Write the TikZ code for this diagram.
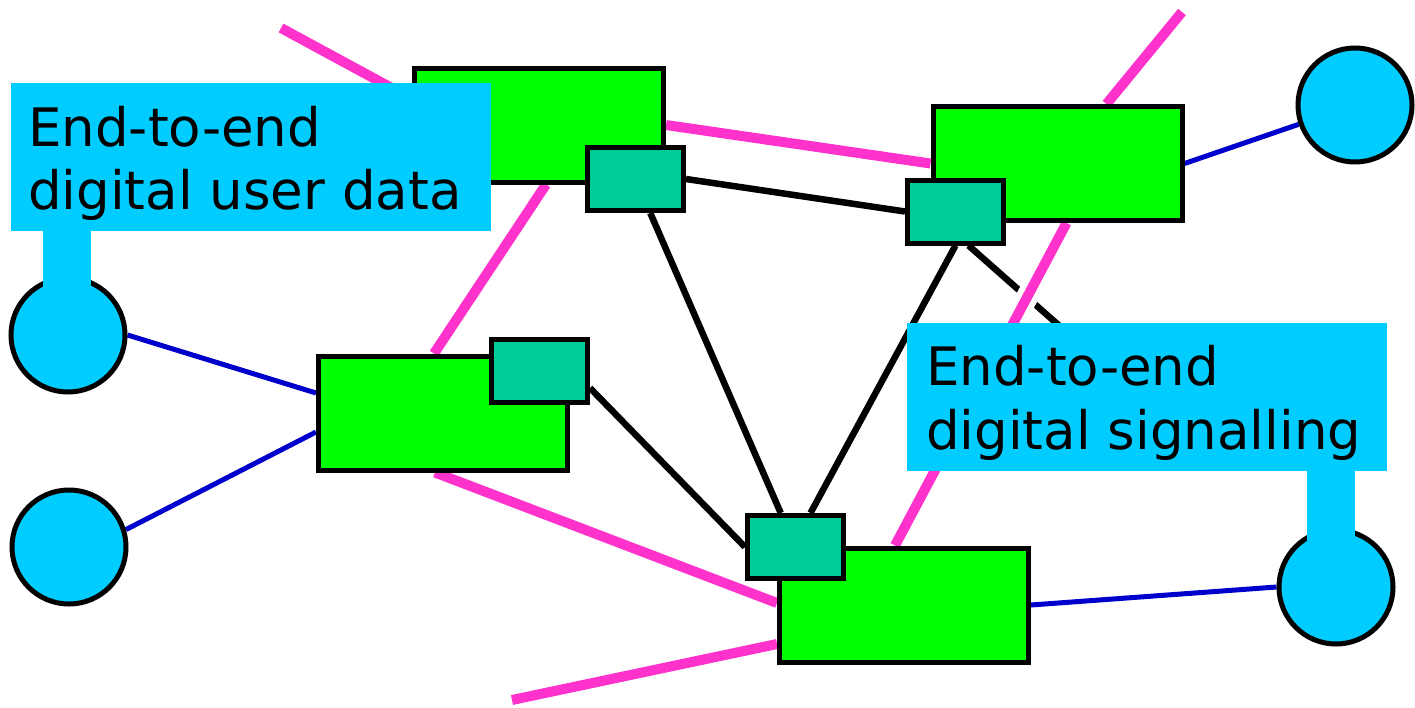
\documentclass[tikz,border=0pt]{standalone}
\usepackage{fontspec}
\setmainfont{DejaVu Sans}
\usetikzlibrary{calc}
\definecolor{exgreen}{RGB}{0,255,0}
\definecolor{sigteal}{RGB}{0,204,153}
\definecolor{termcyan}{RGB}{0,204,255}
\definecolor{linkpink}{RGB}{255,51,204}
\definecolor{accblue}{RGB}{0,0,204}
\pgfdeclarelayer{back}
\pgfsetlayers{back,main}

\begin{document}
\begin{tikzpicture}[x=1pt,y=-1pt,
  exchange/.style={draw=black, line width=5pt, fill=exgreen, minimum width=249pt, minimum height=114pt, inner sep=0pt},
  sigunit/.style={draw=black, line width=5pt, fill=sigteal, minimum width=96pt, minimum height=63pt, inner sep=0pt},
  terminal/.style={circle, draw=black, line width=5pt, fill=termcyan, minimum size=114pt, inner sep=0pt},
  access/.style={draw=accblue, line width=5pt},
  trunk/.style={draw=linkpink, line width=10pt},
  siglink/.style={draw=black, line width=6.5pt},
  callout/.style={fill=termcyan, minimum width=480pt, minimum height=148pt, inner sep=0pt},
  stem/.style={draw=termcyan, line width=48pt},
  lbl/.style={anchor=base west, inner sep=0pt, font=\fontsize{53}{63}\selectfont},
]
\useasboundingbox (0,0) rectangle (1415,707);

% exchanges
\node[exchange] (A) at (539,125) {};
\node[exchange] (B) at (1057.5,163.5) {};
\node[exchange] (C) at (443,413) {};
\node[exchange] (D) at (904,605) {};
% signalling units
\node[sigunit] (a) at (635.5,179) {};
\node[sigunit] (b) at (955.5,211.5) {};
\node[sigunit] (c) at (539.5,371) {};
\node[sigunit] (d) at (795.5,547) {};
% terminals
\node[terminal] (p1) at (1355,105) {};
\node[terminal] (p2) at (68,335) {};
\node[terminal] (p3) at (69,547) {};
\node[terminal] (p4) at (1336,587) {};

% loose ends of links
\coordinate (t1) at (281,28);
\coordinate (t2) at (1182,12);
\coordinate (t3) at (512,700);
\coordinate (t4) at (1098,360);

\begin{pgfonlayer}{back}
  % subscriber access lines
  \draw[access] (p1) -- (B.east);
  \draw[access] (p2.east) -- ([yshift=20pt]C.west);
  \draw[access] (p3.17) -- ([yshift=-19pt]C.west);
  \draw[access] (D.east) -- (p4.west);
  % signalling links
  \draw[siglink] (a.east) -- (b.west);
  \draw[siglink] (a) -- (d);
  \draw[siglink] (b.south) -- ([xshift=15pt]d.north);
  \draw[siglink] ([yshift=-17pt]c.east) -- (d.west);
  \draw[siglink] ([xshift=13pt]b.south) -- (t4);
  % digital trunks
  \draw[trunk] (t1) -- ([yshift=26pt]A.west);
  \draw[trunk] (A.east) -- (B.west);
  \draw[trunk] ([xshift=7pt]A.south) -- ([xshift=-9pt]C.north);
  \draw[trunk] ([xshift=-8pt]C.south) -- ([yshift=2pt]D.west);
  \draw[trunk] (t3) -- ([yshift=-39pt]D.west);
  \draw[trunk, preaction={draw=white, line width=22pt}] ([xshift=-9pt]D.north) -- ([xshift=9pt]B.south);
  \draw[trunk] ([xshift=49pt]B.north) -- (t2);
\end{pgfonlayer}

% callouts
\node[callout] (L1) at (251,157) {};
\node[callout] (L2) at (1147,397) {};
\coordinate (s1) at ([xshift=56pt,yshift=2pt]L1.south west);
\coordinate (s2) at ([xshift=-56pt,yshift=2pt]L2.south east);
\draw[stem] (s1) -- (s1 |- p2);
\draw[stem] (s2) -- (s2 |- p4);

\node[lbl] (L1a) at (28,146) {End-to-end};
\node[lbl] (L1b) at (28,209) {digital user data};
\node[lbl] (L2a) at (926,385) {End-to-end};
\node[lbl] (L2b) at (926,449) {digital signalling};
\end{tikzpicture}
\end{document}
